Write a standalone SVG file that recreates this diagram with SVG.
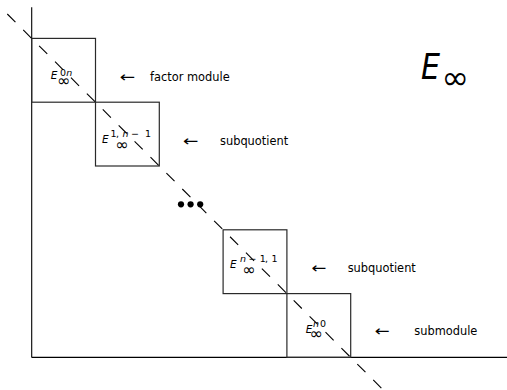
<svg xmlns="http://www.w3.org/2000/svg" width="507" height="390" viewBox="0 0 507 390">
<style>
.box{fill:none;stroke:#2a2a2a;stroke-width:1.2}
.axis{fill:none;stroke:#000;stroke-width:1.1}
.diag{fill:none;stroke:#000;stroke-width:1.1;stroke-dasharray:11.5 11}
.m{font-family:"DejaVu Sans",sans-serif;fill:#000}
.E{font-style:italic;font-size:10.5px}
.sup{font-size:9.5px}
.it{font-style:italic}
.inf{font-size:16px}
.lbl{font-family:"DejaVu Sans",sans-serif;font-size:11.4px;fill:#000}
.arr{font-family:"DejaVu Sans",sans-serif;font-size:15px;fill:#000}
</style>
<rect width="507" height="390" fill="#fff"/>
<g id="axes">
<line class="axis" x1="31.7" y1="7.3" x2="31.7" y2="357.4"/>
<line class="axis" x1="31.7" y1="357.4" x2="507" y2="357.4"/>
</g>
<g id="node-E0n">
<rect class="box" x="31.7" y="38.4" width="63.8" height="63.8"/>
<text class="m"><tspan class="E" x="50.7" y="79.3">E</tspan><tspan class="inf" x="57" y="86">∞</tspan><tspan class="sup" x="60" y="76">0</tspan><tspan class="sup it" x="66.3" y="76">n</tspan></text>
</g>
<g id="node-E1n1">
<rect class="box" x="95.5" y="102.2" width="63.8" height="63.8"/>
<text class="m"><tspan class="E" x="102" y="143.3">E</tspan><tspan class="inf" x="115.3" y="149.8">∞</tspan><tspan class="sup" x="110.5" y="136.7">1</tspan><tspan class="sup" x="116" y="136.7">,</tspan><tspan class="sup it" x="122.5" y="136.7">n</tspan><tspan class="sup" x="131" y="136.7">−</tspan><tspan class="sup" x="145" y="136.7">1</tspan></text>
</g>
<g id="dots">
<circle cx="181" cy="204.3" r="3.1"/>
<circle cx="190.6" cy="204.3" r="3.1"/>
<circle cx="200.2" cy="204.3" r="3.1"/>
</g>
<g id="node-En11">
<rect class="box" x="223.1" y="229.8" width="63.8" height="63.8"/>
<text class="m"><tspan class="E" x="230" y="268">E</tspan><tspan class="inf" x="242.3" y="274.5">∞</tspan><tspan class="sup it" x="240" y="262">n</tspan><tspan class="sup" x="248.5" y="262">−</tspan><tspan class="sup" x="259.8" y="262">1</tspan><tspan class="sup" x="265" y="262">,</tspan><tspan class="sup" x="271.5" y="262">1</tspan></text>
</g>
<g id="node-En0">
<rect class="box" x="286.9" y="293.6" width="63.8" height="63.8"/>
<text class="m"><tspan class="E" x="305.7" y="332.7">E</tspan><tspan class="inf" x="309.5" y="339.2">∞</tspan><tspan class="sup it" x="313" y="327.3">n</tspan><tspan class="sup" x="320" y="327.3">0</tspan></text>
</g>
<g id="connectors">
<line class="diag" x1="7.3" y1="14" x2="384" y2="390.7"/>
</g>
<g id="annotations">
<text class="arr" x="119.5" y="81.5" textLength="15.5" lengthAdjust="spacingAndGlyphs">←</text>
<text class="lbl" x="150" y="80.5">factor module</text>
<text class="arr" x="182.8" y="145.5" textLength="15.5" lengthAdjust="spacingAndGlyphs">←</text>
<text class="lbl" x="220" y="145">subquotient</text>
<text class="arr" x="311.2" y="273.1" textLength="15" lengthAdjust="spacingAndGlyphs">←</text>
<text class="lbl" x="347.7" y="271.7">subquotient</text>
<text class="arr" x="374.5" y="335.8" textLength="15" lengthAdjust="spacingAndGlyphs">←</text>
<text class="lbl" x="414.3" y="335">submodule</text>
</g>
<g id="title">
<text class="m" style="font-size:36px"><tspan x="421" y="79.3" style="font-style:italic" textLength="19" lengthAdjust="spacingAndGlyphs">E</tspan><tspan x="441.5" y="88.5" style="font-size:33px">∞</tspan></text>
</g>
</svg>
